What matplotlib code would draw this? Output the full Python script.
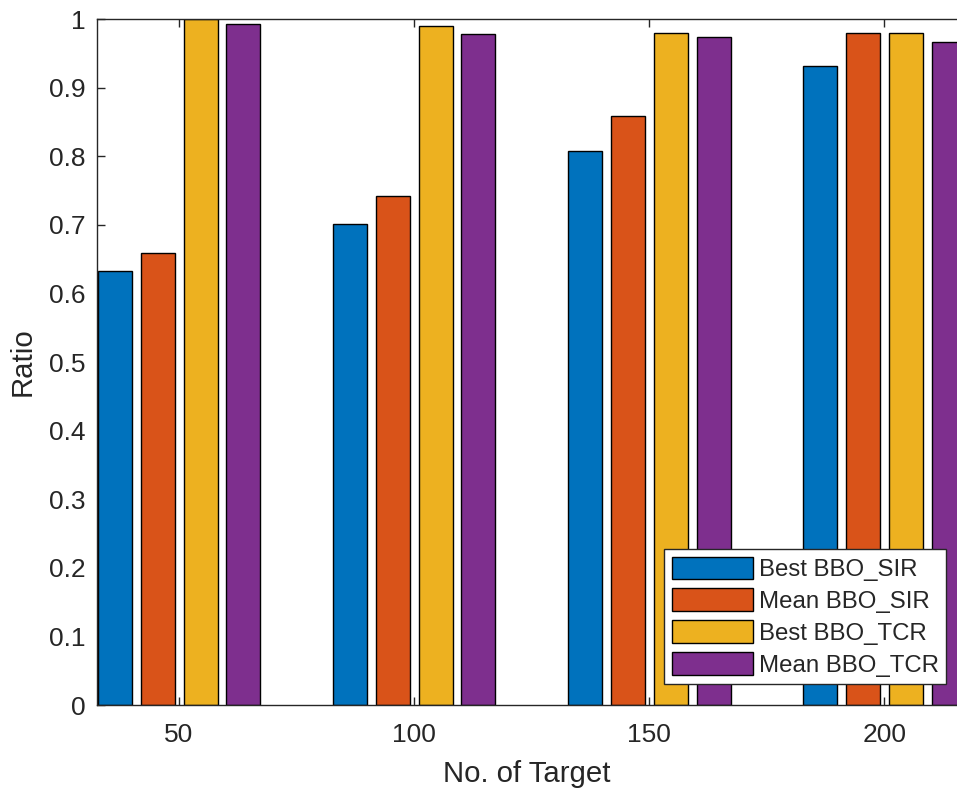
import matplotlib as mpl
import matplotlib.pyplot as plt
import numpy as np

mpl.rcParams.update(
    {
        "font.family": ["Liberation Sans", "DejaVu Sans"],
        "axes.linewidth": 1.0,
        "axes.edgecolor": "#262626",
        "xtick.color": "#262626",
        "ytick.color": "#262626",
        "text.color": "#262626",
        "axes.labelcolor": "#262626",
    }
)

targets = [50, 100, 150, 200]
series = ["Best BBO_SIR", "Mean BBO_SIR", "Best BBO_TCR", "Mean BBO_TCR"]
best_sir = [0.633, 0.701, 0.807, 0.931]
mean_sir = [0.659, 0.742, 0.859, 0.980]
best_tcr = [1.000, 0.990, 0.980, 0.980]
mean_tcr = [0.993, 0.978, 0.974, 0.966]
colors = ["#0072BD", "#D95319", "#EDB120", "#7E2F8E"]

fig = plt.figure(figsize=(9.57, 7.92), dpi=100)
ax = fig.add_axes([0.1014, 0.1098, 0.8986, 0.8662])

x = np.array(targets, dtype=float)
offsets = [-13.7, -4.57, 4.57, 13.7]
width = 7.23
for vals, off, c, lab in zip([best_sir, mean_sir, best_tcr, mean_tcr], offsets, colors, series):
    ax.bar(x + off, vals, width=width, color=c, edgecolor="black", linewidth=1.0, label=lab, zorder=2)

ax.set_xlim(32.55, 215.5)
ax.set_ylim(0, 1)
ax.set_xticks(targets)
ax.set_yticks(np.arange(0, 1.01, 0.1))
ax.set_yticklabels(["0"] + [f"{v:.1f}" for v in np.arange(0.1, 0.95, 0.1)] + ["1"])
ax.tick_params(direction="in", top=True, right=False, length=6, width=1.0, labelsize=19)
ax.tick_params(axis="x", pad=13)
ax.tick_params(axis="y", pad=8)
ax.spines["right"].set_visible(False)

ax.set_xlabel("No. of Target", fontsize=21.2, labelpad=9)
ax.set_ylabel("Ratio", fontsize=21.2, labelpad=9)

leg = ax.legend(
    loc="lower right",
    bbox_to_anchor=(0.987, 0.031),
    borderaxespad=0,
    fontsize=17.3,
    handlelength=3.37,
    handleheight=1.08,
    handletextpad=0.25,
    labelspacing=0.3,
    borderpad=0.3,
    fancybox=False,
    framealpha=1,
    edgecolor="#262626",
)
leg.get_frame().set_linewidth(1.0)
leg.set_zorder(5)

fig.savefig("out.png", dpi=100, facecolor="white")
